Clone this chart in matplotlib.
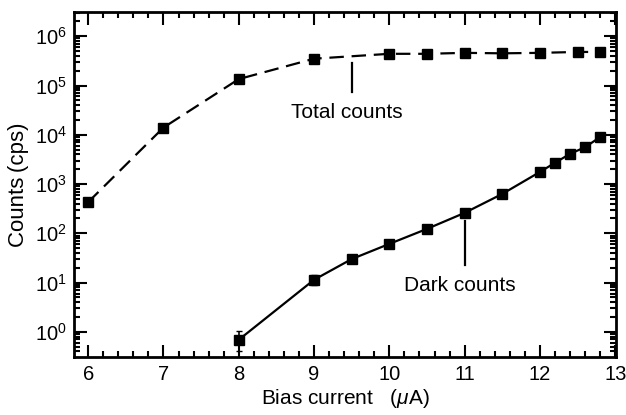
import numpy as np
import matplotlib
matplotlib.use('Agg')
import matplotlib.pyplot as plt
from matplotlib.ticker import LogLocator, MultipleLocator, NullFormatter, FixedLocator

plt.rcParams['font.family'] = ['Liberation Sans', 'DejaVu Sans']
plt.rcParams['mathtext.fontset'] = 'custom'
plt.rcParams['mathtext.rm'] = 'Liberation Sans'
plt.rcParams['mathtext.it'] = 'Liberation Sans:italic'

# 总计数
total_x = [6, 7, 8, 9, 10, 10.5, 11, 11.5, 12, 12.5, 12.8]
total_y = [4.3e2, 1.4e4, 1.35e5, 3.5e5, 4.4e5, 4.4e5, 4.6e5, 4.5e5, 4.6e5, 4.8e5, 4.8e5]

# 暗计数
dark_x = [8, 9, 9.5, 10, 10.5, 11, 11.5, 12, 12.2, 12.4, 12.6, 12.8]
dark_y = [0.69, 11.4, 30, 61, 123, 260, 630, 1760, 2700, 4100, 5600, 9000]
dark_err_lo = [0.29, 2.4, 3, 5, 8, 15, 40, 100, 150, 200, 250, 400]
dark_err_hi = [0.36, 2.8, 3, 5, 8, 15, 40, 100, 150, 200, 250, 400]

# y轴主刻度
y_ticks = [1e0, 1e1, 1e2, 1e3, 1e4, 1e5, 1e6]

fig = plt.figure(figsize=(6.26, 4.15), dpi=100)
ax = fig.add_axes([0.118, 0.140, 0.866, 0.831])

ax.errorbar(total_x, total_y, yerr=np.array(total_y) * 0.04, color='black',
            lw=1.6, ls=(0, (6.5, 3.5)), marker='s', ms=6.5, capsize=2.5, elinewidth=1.2)
ax.errorbar(dark_x, dark_y, yerr=[dark_err_lo, dark_err_hi], color='black',
            lw=1.6, marker='s', ms=6.5, capsize=2.5, elinewidth=1.2)

ax.set_yscale('log')
ax.set_xlim(5.81, 13.01)
ax.set_ylim(0.31, 3.1e6)

ax.xaxis.set_major_locator(MultipleLocator(1))
ax.xaxis.set_minor_locator(MultipleLocator(0.2))
ax.yaxis.set_major_locator(FixedLocator(y_ticks))
ax.yaxis.set_minor_locator(LogLocator(base=10, subs=np.arange(2, 10), numticks=20))
ax.yaxis.set_minor_formatter(NullFormatter())

ax.tick_params(which='both', direction='in', top=True, right=True, labelsize=14.5, width=1.5)
ax.tick_params(which='major', length=9)
ax.tick_params(which='minor', length=4.5)
ax.tick_params(axis='x', pad=6)
ax.tick_params(axis='y', pad=5)
for s in ax.spines.values():
    s.set_linewidth(2)

ax.set_xlabel('Bias current   ($\\mu$A)', fontsize=15, labelpad=2)
ax.set_ylabel('Counts\u2009(cps)', fontsize=16, labelpad=4)

# 标注
ax.plot([9.5, 9.5], [2.9e5, 7.5e4], color='black', lw=1.6)
ax.text(9.43, 2.8e4, 'Total counts', ha='center', va='center', fontsize=15)
ax.plot([11, 11], [1.75e2, 2.3e1], color='black', lw=1.6)
ax.text(10.93, 8.6, 'Dark counts', ha='center', va='center', fontsize=15)

fig.savefig('out.png', dpi=100)
